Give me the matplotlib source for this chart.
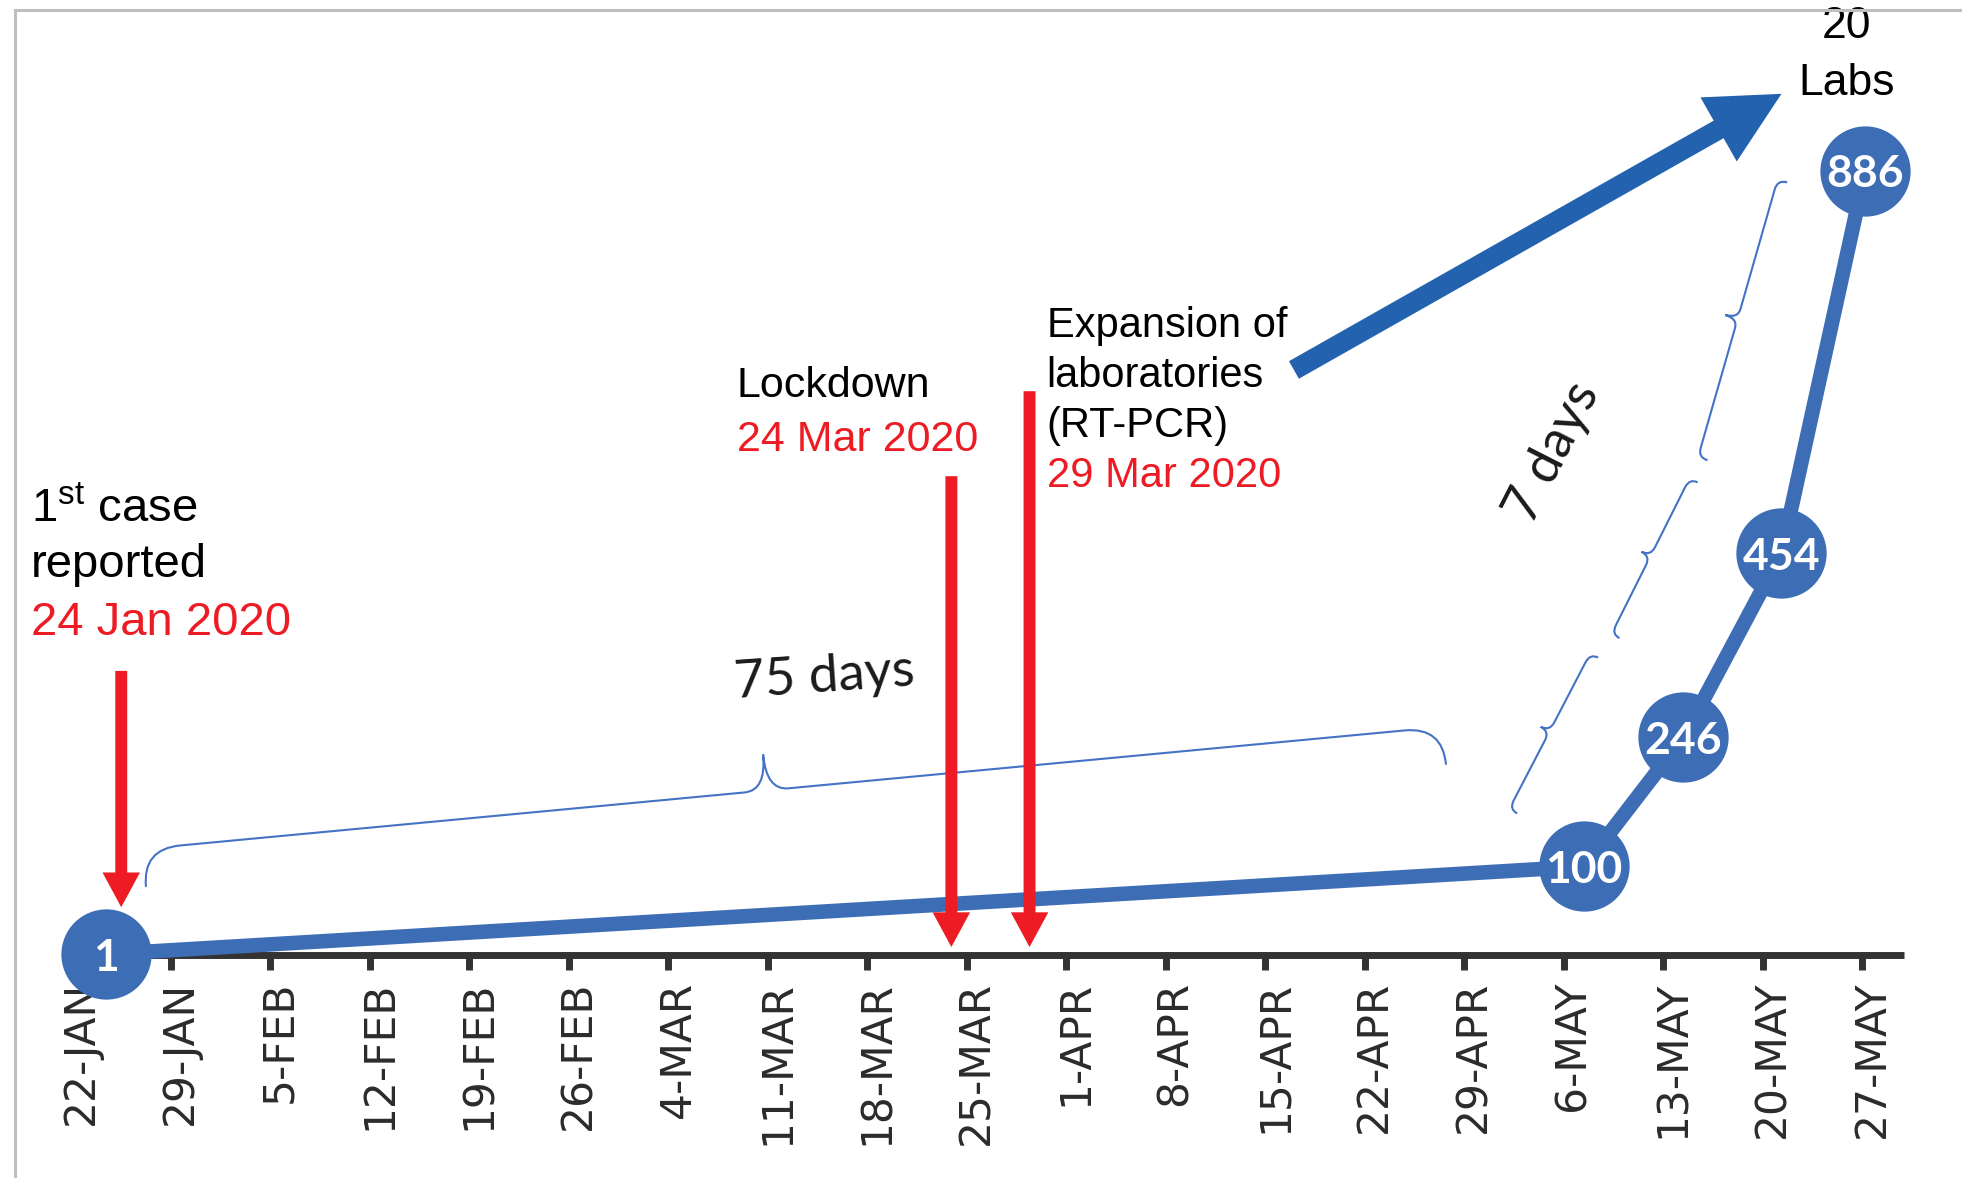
import numpy as np
import matplotlib
matplotlib.use("Agg")
import matplotlib.pyplot as plt
from matplotlib.path import Path
from matplotlib.patches import PathPatch, FancyArrowPatch, ArrowStyle
from matplotlib.lines import Line2D
from matplotlib.transforms import IdentityTransform, ScaledTranslation

# days counted from 22 Jan 2020
tick_days = list(range(0, 127, 7))
tick_labels = ["22-JAN", "29-JAN", "5-FEB", "12-FEB", "19-FEB", "26-FEB",
               "4-MAR", "11-MAR", "18-MAR", "25-MAR", "1-APR", "8-APR",
               "15-APR", "22-APR", "29-APR", "6-MAY", "13-MAY", "20-MAY",
               "27-MAY"]

lab_days = [2.4, 106.4, 113.4, 120.3, 126.2]
lab_counts = [1, 100, 246, 454, 886]

LINE_BLUE = "#3D6DB5"
ARROW_BLUE = "#2262AE"
BRACE_BLUE = "#4472C4"
RED = "#ED1C24"
TXT = "Liberation Sans"

plt.rcParams["mathtext.fontset"] = "custom"
plt.rcParams["mathtext.rm"] = TXT

fig = plt.figure(figsize=(19.62, 11.78), dpi=100)
ax = fig.add_axes([0, 0.1893, 1, 0.8107])
ax.set_xlim(-5.03, 133.0)
ax.set_ylim(0, 1079)

for s in ["left", "right", "top"]:
    ax.spines[s].set_visible(False)
ax.spines["bottom"].set_color("#333333")
ax.spines["bottom"].set_linewidth(5)
ax.spines["bottom"].set_capstyle("butt")
ax.spines["bottom"].set_bounds(2.4, 128.9)
ax.set_yticks([])
ax.set_xticks(tick_days)
ax.set_xticklabels(tick_labels, rotation=90, fontsize=30.5,
                   family="DejaVu Sans", color="#2B2B2B")
ax.tick_params(axis="x", length=11, width=5, color="#333333", pad=7.5)
shift = ScaledTranslation(9 / 100, 0, fig.dpi_scale_trans)
for lbl in ax.get_xticklabels():
    lbl.set_transform(lbl.get_transform() + shift)

# outer frame (left and top edges)
fig.add_artist(Line2D([15 / 1962, 15 / 1962], [0, 1 - 10 / 1178],
                      transform=fig.transFigure, color="#BFBFBF", lw=2.2))
fig.add_artist(Line2D([15 / 1962, 1], [1 - 10 / 1178, 1 - 10 / 1178],
                      transform=fig.transFigure, color="#BFBFBF", lw=2.2))

# lab count line
ax.plot(lab_days, lab_counts, color=LINE_BLUE, lw=10.5, solid_capstyle="butt",
        zorder=3, clip_on=False)
ax.plot(lab_days, lab_counts, "o", ms=65, color=LINE_BLUE, mec="none",
        zorder=4, clip_on=False)
for d, c in zip(lab_days, lab_counts):
    ax.text(d, c, str(c), ha="center", va="center_baseline", color="white",
            fontsize=32, fontweight="bold", family="Lato", zorder=5)


def red_arrow(day, top, tip):
    arr = FancyArrowPatch((day, top), (day, tip),
                          arrowstyle=ArrowStyle.Simple(head_length=25,
                                                       head_width=27,
                                                       tail_width=8.6),
                          mutation_scale=1, color=RED, lw=0,
                          shrinkA=0, shrinkB=0, zorder=6, clip_on=False)
    ax.add_patch(arr)


red_arrow(3.5, 321, 54)
red_arrow(61.9, 541, 9)
red_arrow(67.4, 637, 9)

ax.add_patch(FancyArrowPatch((86.0, 661), (120.3, 973),
                             arrowstyle=ArrowStyle.Simple(head_length=52,
                                                          head_width=53,
                                                          tail_width=14.5),
                             mutation_scale=1, color=ARROW_BLUE, lw=0,
                             shrinkA=0, shrinkB=0, zorder=6))

# event labels
ax.text(-2.85, 490, r"1$^{\mathrm{st}}$ case", fontsize=34, family=TXT,
        color="black", va="baseline")
ax.text(-2.85, 427, "reported", fontsize=34, family=TXT, color="black",
        va="baseline")
ax.text(-2.85, 362, "24 Jan 2020", fontsize=34, family=TXT, color=RED,
        va="baseline")

ax.text(46.8, 630, "Lockdown", fontsize=31, family=TXT, color="black",
        va="baseline")
ax.text(46.8, 569, "24 Mar 2020", fontsize=31, family=TXT, color=RED,
        va="baseline")

for v, s, col in [(698, "Expansion of", "black"), (642, "laboratories", "black"),
                  (585, "(RT-PCR)", "black"), (529, "29 Mar 2020", RED)]:
    ax.text(68.6, v, s, fontsize=30, family=TXT, color=col, va="baseline")

ax.text(124.9, 1036, "20", fontsize=32, family=TXT, ha="center", va="baseline")
ax.text(124.9, 972, "Labs", fontsize=32, family=TXT, ha="center", va="baseline")

ax.text(53.0, 314, "75 days", fontsize=38, family="Lato", color="#1A1A1A",
        ha="center", va="center", rotation=4)
ax.text(104.2, 568, "7 days", fontsize=38, family="Lato", color="#1A1A1A",
        ha="center", va="center", rotation=63)


def brace(p1, p2, body, depth, curl, mid=0.5, tipw=None):
    """Curly brace between two data points, tip on the left of p1->p2."""
    a = ax.transData.transform(p1)
    b = ax.transData.transform(p2)
    u = b - a
    L = np.hypot(*u)
    u = u / L
    n = np.array([-u[1], u[0]])
    m = L * mid
    tw = curl if tipw is None else tipw
    pts = [(0, 0), (0, body), (curl, body),
           (m - tw, body), (m, body), (m, depth),
           (m, body), (m + tw, body),
           (L - curl, body), (L, body), (L, 0)]
    codes = [Path.MOVETO, Path.CURVE3, Path.CURVE3,
             Path.LINETO, Path.CURVE3, Path.CURVE3,
             Path.CURVE3, Path.CURVE3,
             Path.LINETO, Path.CURVE3, Path.CURVE3]
    verts = [a + x * u + y * n for x, y in pts]
    ax.add_patch(PathPatch(Path(verts, codes), transform=IdentityTransform(),
                           fill=False, ec=BRACE_BLUE, lw=1.5, zorder=2,
                           clip_on=False))


brace((5.24, 77), (96.7, 215), body=38, depth=74, curl=38, mid=0.48, tipw=22)
brace((101.7, 160), (107.4, 336), body=9, depth=19, curl=10)
brace((108.9, 358), (114.4, 534), body=9, depth=19, curl=10)
brace((115.1, 559), (120.7, 873), body=10, depth=23, curl=10)

fig.savefig("out.png", dpi=100)
